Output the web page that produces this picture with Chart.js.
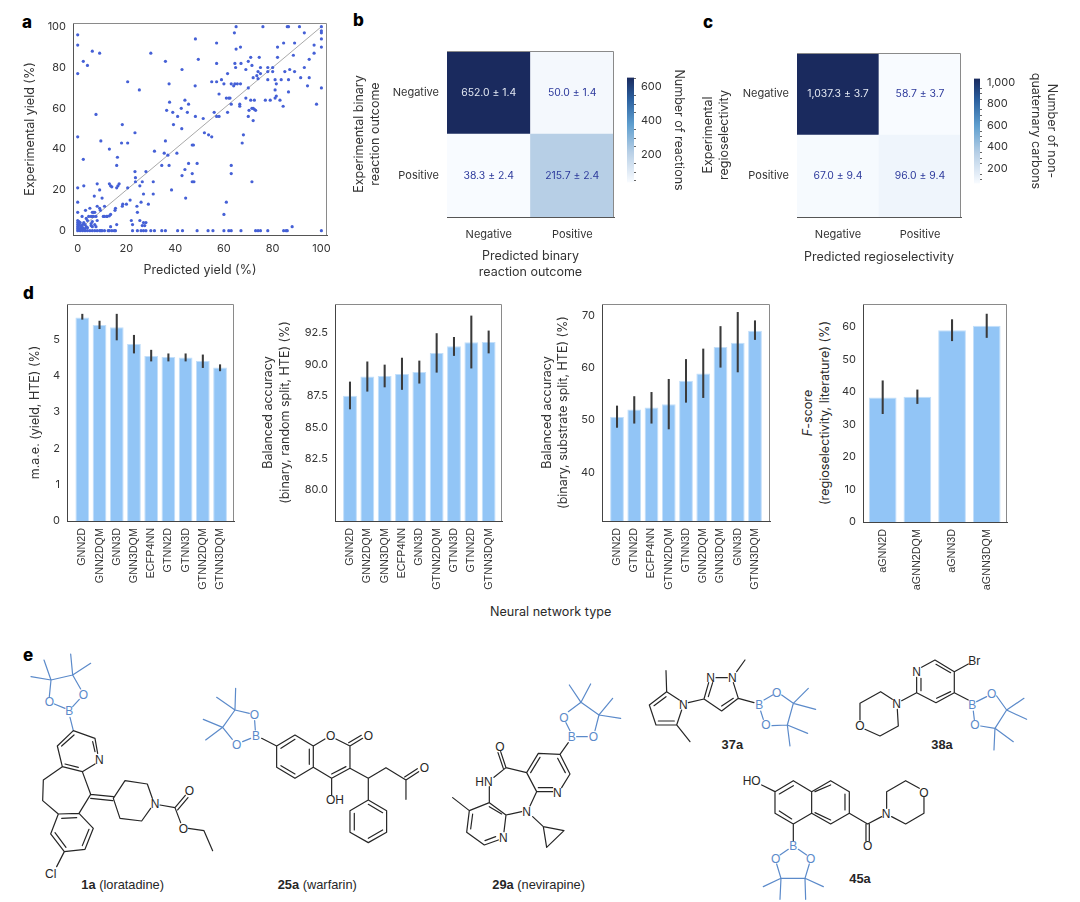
<!DOCTYPE html>
<html>
<head>
<meta charset="utf-8">
<script src="https://cdn.jsdelivr.net/npm/chart.js@4"></script>
<style>
  html, body { margin: 0; background: #fff; }
  #page { position: relative; width: 1080px; height: 902px; overflow: hidden; font-family: Inter, sans-serif; color: #2a2a2a; }
  #page canvas { position: absolute; }
  .tag { position: absolute; font: 800 17px Inter, sans-serif; color: #000; line-height: 16px; }
  .note { position: absolute; font: 12.6px/16px Inter, sans-serif; white-space: nowrap; }
  svg { position: absolute; left: 0; top: 0; }
  svg path { fill: none; stroke-width: 3.6; stroke-linecap: round; stroke-linejoin: round; }
  svg .k { stroke: #262626; }
  svg .b { stroke: #5b8aca; }
  svg text { font: 36px "Liberation Sans", sans-serif; text-anchor: middle; fill: #262626; }
  svg text.bl { fill: #5b8aca; }
  svg text.cap { font-size: 38.5px; }
  svg tspan.bd { font-weight: bold; }
</style>
</head>
<body>
<div id="page">
  <div class="tag" style="left:22px;top:14px">a</div>
  <div class="tag" style="left:353px;top:12px">b</div>
  <div class="tag" style="left:703px;top:14px">c</div>
  <div class="tag" style="left:23px;top:285px">d</div>
  <div class="tag" style="left:23px;top:647px">e</div>
  <div class="note" style="left:490px;top:604px">Neural network type</div>
  <div class="note" style="left:816px;top:413px;transform:translate(-50%,-50%) rotate(-90deg);text-align:center;line-height:16.5px"><i>F</i>-score<br>(regioselectivity, literature) (%)</div>

  <svg width="1080" height="902">
    <!-- 1a -->
    <g transform="translate(20,640) scale(.3333)">
      <path class="b" d="M135 205L103 192M158 200L178 178M88 170L93 120L158 105L182 147M93 120L72 60M93 120L33 110M158 105L152 42M158 105L212 70M150 232L160 272"/>
      <path class="k" d="M160 272L225 295L233 340M225 372L187 395L127 380L112 318L160 272M218 305L225 335M175 382L135 372M125 318L162 285M127 380L70 420L68 482L115 522M187 395L212 463L177 520M115 522L177 520L220 565L195 628L133 635L92 582L115 522M125 535L170 533M207 568L187 617M138 622L105 578M133 635L110 680M212 463L280 470M212 475L278 482M280 475L315 422L382 432L397 475M392 505L365 543L300 535L280 475M420 495L465 503M465 503L496 466M473 510L504 473M465 503L482 548M505 565L552 572L578 632"/>
      <text class="bl" x="148" y="226">B</text><text class="bl" x="88" y="198">O</text><text class="bl" x="190" y="176">O</text>
      <text x="238" y="371">N</text><text x="405" y="503">N</text><text x="508" y="466">O</text><text x="490" y="578">O</text><text x="92" y="713">Cl</text>
      <text class="cap" x="308" y="747"><tspan class="bd">1a</tspan> (loratadine)</text>
      <!-- 25a -->
      <path class="b" d="M706 270L704 242M692 295L668 305M688 220L645 210L608 262L637 298M645 210L590 172M645 210L647 145M608 262L550 238M608 262L557 300"/>
      <path class="k" d="M725 295L770 318L825 285L880 318L880 382L825 415L770 382L770 318M783 325L825 298M868 327L868 373M825 402L783 377M880 318L915 297M948 297L990 318L990 385L935 415L880 382M990 318L1028 295M986 308L1024 286M978 380L935 402M935 415L935 465M990 385L1045 415L1045 480L1100 512L1100 577L1045 608L990 577L990 512L1045 480M1003 520L1003 570M1045 595L1088 570M1045 493L1088 518M1045 415L1098 383L1158 420L1158 478M1158 420L1196 395M1154 411L1192 386"/>
      <text class="bl" x="708" y="301">B</text><text class="bl" x="703" y="238">O</text><text class="bl" x="650" y="326">O</text>
      <text x="932" y="300">O</text><text x="1045" y="300">O</text><text x="945" y="493">OH</text><text x="1213" y="396">O</text>
      <text class="cap" x="892" y="747"><tspan class="bd">25a</tspan> (warfarin)</text>
    </g>
    <!-- 29a -->
    <g transform="translate(380,640) scale(.3333)">
      <path class="b" d="M570 272L558 248M590 290L622 290M565 215L603 187L657 225L645 272M603 187L568 135M603 187L632 132M657 225L698 175M657 225L722 235"/>
      <path class="k" d="M565 308L540 343L475 340L440 398L470 455L518 455M480 352L452 398M475 443L518 443M545 443L570 402L540 343M556 398L533 355M440 398L378 383L362 335M370 385L354 338M378 383L342 412M328 440L328 488L268 512L260 577L313 615L355 600M278 522L272 567M315 602L347 590M372 575L378 525L328 488M365 522L328 500M268 512L218 473M378 525L425 515M470 455L450 498M458 530L490 560L552 572L500 622L490 560"/>
      <text class="bl" x="575" y="303">B</text><text class="bl" x="552" y="245">O</text><text class="bl" x="640" y="303">O</text>
      <text x="532" y="470">N</text><text x="360" y="333">O</text><text x="312" y="437">HN</text><text x="370" y="605">N</text><text x="440" y="528">N</text>
      <text class="cap" x="476" y="747"><tspan class="bd">29a</tspan> (nevirapine)</text>
    </g>
    <!-- 37a, 38a, 45a -->
    <g transform="translate(640,640) scale(.3333)">
      <path class="k" d="M118 180L80 155L28 195L48 255L110 255L125 210M78 170L42 197M55 243L103 243M80 155L78 92M110 255L150 305M145 188L192 177L206 128M205 170L218 128M228 113L262 113M280 128L295 175L245 213L192 177M280 175L245 198M290 95L315 60M295 175L342 188"/>
      <path class="b" d="M372 180L398 165M362 213L370 238M425 165L460 190L442 255L396 257M460 190L505 145M460 190L527 208M442 255L503 280M442 255L450 318"/>
      <text x="130" y="206">N</text><text x="212" y="125">N</text><text x="277" y="126">N</text>
      <text class="bl" x="358" y="208">B</text><text class="bl" x="410" y="170">O</text><text class="bl" x="378" y="268">O</text>
      <text class="cap" x="277" y="327"><tspan class="bd">37a</tspan></text>

      <path class="k" d="M845 82L885 60L943 95L943 158L888 188L830 158L830 112M888 73L932 98M932 155L890 175M843 152L843 115M943 95L985 72M830 158L785 182M757 178L722 155L660 190L660 240M675 268L720 288L775 258L772 208M943 158L985 180"/>
      <path class="b" d="M1010 185L1040 170M1000 213L1003 238M1070 168L1100 210L1065 265L1022 258M1100 210L1152 175M1100 210L1160 238M1065 265L1120 305M1065 265L1062 330"/>
      <text x="830" y="108">N</text><text x="770" y="203">N</text><text x="660" y="271">O</text><text x="1003" y="75">Br</text>
      <text class="bl" x="997" y="208">B</text><text class="bl" x="1055" y="175">O</text><text class="bl" x="1005" y="268">O</text>
      <text class="cap" x="906" y="327"><tspan class="bd">38a</tspan></text>

      <path class="k" d="M365 435L405 455L460 422L515 455L515 520L460 552L405 520L405 455M418 462L460 437M418 513L455 537M515 455L572 422L628 455L628 520L572 552L515 520M525 455L572 435M615 462L615 510M525 518L572 540M628 520L683 552L725 530M678 552L678 603M688 552L688 603M740 505L740 455L797 422L838 445M852 472L852 520L797 552L755 530M460 552L460 603"/>
      <path class="b" d="M445 628L420 645M475 628L500 645M410 672L423 715L495 715L508 672M423 715L370 740M423 715L420 778M495 715L550 740M495 715L497 778"/>
      <text x="335" y="436">HO</text><text x="683" y="631">O</text><text x="738" y="533">N</text><text x="852" y="470">O</text>
      <text class="bl" x="460" y="631">B</text><text class="bl" x="407" y="668">O</text><text class="bl" x="512" y="668">O</text>
      <text class="cap" x="660" y="728"><tspan class="bd">45a</tspan></text>
    </g>
  </svg>
</div>
<script>
// panel a
const predicted = [0,0,0,2.3,4,6,9,0,7.5,9.5,2.3,0,2.5,0,0,8,13,13.5,14,16,16.5,17,16,16.3,13,18,20.5,18.3,23.5,20.5,25.3,30,36,42.8,37.5,48.3,49.5,48.2,44,45.5,37.7,36.5,39,42.5,41,45,48.3,39.3,42.7,51.5,52,53.7,55,36,35.5,37,40.7,37.5,34.5,31.5,45.5,44,42.8,47,49,47,47.5,47,47.7,38.5,44.3,23.5,23.7,23.7,28,26.5,25.5,31,20.5,31,27,21.5,29,26,24.3,24.5,18.5,18.3,20,15.5,15.3,13.5,12,13,10.5,11,9.3,8,9,10,6.8,9,22,22.5,25.5,27,28,26.5,27.5,16,13.5,
  57,65,64.3,65,66.8,76,86,86.5,91,100,100,100,100,100,93,89,84.5,82,57,64.5,64.8,67,70,71,71.5,74.5,75,69,61.5,55,57,59,60,63,64,64.5,65.5,66.8,58,61,62,62.5,69,70,71,72.5,72,73.5,74,75,74,77,79,78,78,78,80,80,82,81,83.5,81.5,81,81.5,81,83,84.3,85,87,86.5,86.5,88.5,89,91.5,93,95,95,94.3,97,97,98,100,63,66.5,66.5,61.5,57,58,56,70.3,70,72,72,72.5,73,71.5,68,67.5,63,63,71.5,61,60,88,
  22.5,24.5,26,27,28,30,31.5,34.5,36,41,43,49,53.5,55.5,60,62,63,67,73,74,75,78,84.5,85.5,86,100,15.5,15,14,13,12.5,11,10,9.5,9,8,7,6,5,4,3,2,1,0,
  0,0,0,0,0,0.5,1,0.5,1,1.5,2,1,0.5,2,2.5,3,3.5,3,4,4,1.8,3.2,5,3.5,4.5,5.5,6,6.5,7,6,6.5,7.5,8,7,5.5,5.5,6,6,7.5,1.5,2.5,0.8,1.2,1.8,2.8,11,12];
const experimental = [96,91,77,83,81,88,87,46,57,44,35,21,22,14,9,23,23,22,21.5,21,22,23,32,36,40,43,43,52,48,73,69,87,83,79,72,94,84,71,64,62,63,59,58,60,56,58,56,52,50,55,48,47,46,44,38,37,38,32,32,39,33,30,27,28,33,42,42,24,24,20,16,29,26,24,29,24,22,24,21,18,18,15,13,14,12,9,13,12,13,11,10,8,7,7.3,7,12,10,12,11,16,17,20,5,3,5,4,4,2.5,2.5,3,2,
  92,100,97,89,90,100,100,100,100,100,98,97,94,90,97,92,92,90,82,82,80,82,83,85,81,85,80,79,77,73,73,74,72,72,71,72,72,72,67,65,65,65,65,70,64,64,75,76,78,77,74.5,64,64,74,78,80,78,80,85,74,74,72,69,66,65,64,61,78,79,74,68,86,78,75,80,84,75,71,91,87,62,70,62,62,61,58,56,56,58,59,56,54,60,59.5,59,60,47,43,32,28,24,14,8,2,
  0,0,0,0,0,0,0,0,0,0,0,0,0,0,0,0,0,0,0,0,0,0,0,0,0,0,0,0,0,0,0,0,0,0,0,0,0,0,0,0,0,0,0,0,
  5,4,3,2,1,4.5,4,3,2.5,2,1.5,1,1,3,4,3,2,1,1.5,5,7,10,11,6,7,7,9,9,9,7,7,7,5,3,3.5,2.5,4.5,2,2,0.5,0.5,0.5,0.5,0.5,0.5,7,7];
const parityX = [0, 100];
const parityY = [0, 100];
const yieldTicks = [0, 20, 40, 60, 80, 100];

// panels b, c
const outcomeLabels = ['Negative', 'Positive'];
const bNegativeRow = [652.0, 50.0];
const bPositiveRow = [38.3, 215.7];
const bNegativeErr = [1.4, 1.4];
const bPositiveErr = [2.4, 2.4];
const bBarTicks = [200, 400, 600];
const bBarMinor = [50, 100, 150, 250, 300, 350, 450, 500, 550, 650];
const cNegativeRow = [1037.3, 58.7];
const cPositiveRow = [67.0, 96.0];
const cNegativeErr = [3.7, 3.7];
const cPositiveErr = [9.4, 9.4];
const cBarTicks = [200, 400, 600, 800, 1000];
const cBarMinor = [100, 150, 250, 300, 350, 450, 500, 550, 650, 700, 750, 850, 900, 950];

// panel d
const maeNames = ['GNN2D','GNN2DQM','GNN3D','GNN3DQM','ECFP4NN','GTNN2D','GTNN3D','GTNN2DQM','GTNN3DQM'];
const maeValues = [5.6,5.39,5.33,4.87,4.54,4.51,4.5,4.4,4.22];
const maeLow = [5.55,5.29,4.98,4.62,4.4,4.4,4.4,4.22,4.13];
const maeHigh = [5.69,5.5,5.69,5.11,4.7,4.6,4.6,4.57,4.3];
const maeTicks = [0,1,2,3,4,5];

const randomNames = ['GNN2D','GNN2DQM','GNN3DQM','ECFP4NN','GNN3D','GTNN2DQM','GTNN3D','GTNN2D','GTNN3DQM'];
const randomValues = [87.5,89.03,89.08,89.24,89.4,90.9,91.44,91.76,91.78];
const randomLow = [86.45,87.86,88.2,88.0,88.5,89.37,90.7,89.7,90.9];
const randomHigh = [88.6,90.2,89.95,90.5,90.27,92.45,92.15,93.85,92.66];
const randomTicks = [80,82.5,85,87.5,90,92.5];

const substrateNames = ['GNN2D','GTNN2D','ECFP4NN','GTNN2DQM','GTNN3D','GNN2DQM','GNN3DQM','GNN3D','GTNN3DQM'];
const substrateValues = [50.6,52,52.4,53.05,57.5,58.9,64,64.8,67.1];
const substrateLow = [48.6,49.4,49.4,48.3,53.4,54.3,60.1,59.2,65.4];
const substrateHigh = [52.7,54.5,55.3,57.8,61.6,63.6,67.9,70.6,69];
const substrateTicks = [40,50,60,70];

const fscoreNames = ['aGNN2D','aGNN2DQM','aGNN3D','aGNN3DQM'];
const fscoreValues = [38.3,38.5,58.9,60.3];
const fscoreLow = [33.3,36.4,55.7,56.7];
const fscoreHigh = [43.4,40.6,62.2,63.9];
const fscoreTicks = [0,10,20,30,40,50,60];

const INK = '#333';
const tickFont = { family: 'Inter', size: 11 };
const titleFont = { family: 'Inter', size: 12.5, lineHeight: 1.25 };

// colour ramp shared by the heatmaps and their colour bars
const rampStops = [[0, '#f8fbff'], [0.29, '#b7cfe6'], [0.55, '#5f9fcf'], [0.8, '#2a5f9e'], [1, '#1a2a5e']];
function rampColor(t) {
  for (let i = 1; i < rampStops.length; i++) {
    if (t <= rampStops[i][0]) {
      const [t0, c0] = rampStops[i - 1], [t1, c1] = rampStops[i];
      const f = (t - t0) / (t1 - t0);
      const ch = (c, k) => parseInt(c.substr(1 + k * 2, 2), 16);
      const mix = k => Math.round(ch(c0, k) + (ch(c1, k) - ch(c0, k)) * f);
      return 'rgb(' + mix(0) + ',' + mix(1) + ',' + mix(2) + ')';
    }
  }
  return rampStops[rampStops.length - 1][1];
}

const framePlugin = {
  id: 'frame',
  afterDraw(chart) {
    const { ctx, chartArea: a } = chart;
    ctx.save();
    ctx.strokeStyle = '#8a8a8a';
    ctx.lineWidth = 1;
    ctx.beginPath();
    ctx.moveTo(a.left, a.top + 0.5);
    ctx.lineTo(a.right - 0.5, a.top + 0.5);
    ctx.lineTo(a.right - 0.5, a.bottom);
    ctx.stroke();
    ctx.restore();
  }
};

// puts a chart on the page so that its plot area lands on the given box
function place(box, margin, config) {
  const canvas = document.createElement('canvas');
  const w = box.r - box.l + margin.l + margin.r;
  const h = box.b - box.t + margin.t + margin.b;
  canvas.width = w;
  canvas.height = h;
  canvas.style.left = (box.l - margin.l) + 'px';
  canvas.style.top = (box.t - margin.t) + 'px';
  canvas.style.width = w + 'px';
  canvas.style.height = h + 'px';
  document.getElementById('page').appendChild(canvas);
  config.options.responsive = false;
  config.options.animation = false;
  // a right-hand axis already takes up the right margin, so no padding then
  config.options.layout = { padding: { top: margin.t, right: margin.axisRight ? 0 : margin.r, left: 0, bottom: 0 } };
  config.options.plugins = { legend: { display: false }, tooltip: { enabled: false } };
  return new Chart(canvas, config);
}

function fixedTicks(list) {
  return scale => { scale.ticks = list.map(v => ({ value: v })); };
}

// panel a: parity plot
place({ l: 73, r: 327, t: 23, b: 235 }, { l: 51, r: 14, t: 10, b: 43 }, {
  type: 'scatter',
  data: {
    datasets: [
      { data: predicted.map((x, i) => ({ x, y: experimental[i] })), pointRadius: 1.6, pointBackgroundColor: '#4560d6', pointBorderWidth: 0, order: 1 },
      { data: parityX.map((x, i) => ({ x, y: parityY[i] })), showLine: true, pointRadius: 0, borderColor: '#a9a9a9', borderWidth: 1, order: 2 }
    ]
  },
  options: {
    scales: {
      x: {
        min: -1.93, max: 102.3, afterBuildTicks: fixedTicks(yieldTicks), afterFit: s => { s.height = 43; },
        grid: { display: false, drawTicks: true, tickLength: 4, tickColor: INK }, border: { color: '#555' },
        ticks: { font: tickFont, color: INK, padding: 3, maxRotation: 0 },
        title: { display: true, text: 'Predicted yield (%)', font: titleFont, color: INK, padding: 0 }
      },
      y: {
        min: -2.1, max: 101.8, afterBuildTicks: fixedTicks(yieldTicks), afterFit: s => { s.width = 51; },
        grid: { display: false, tickLength: 4, tickColor: INK }, border: { color: '#555' },
        ticks: { font: tickFont, color: INK, padding: 3 },
        title: { display: true, text: 'Experimental yield (%)', font: titleFont, color: INK, padding: 0 }
      }
    }
  },
  plugins: [framePlugin]
});

// heatmap as two stacked one-unit rows, coloured by the count in each cell
function heatmap(box, margin, topRow, bottomRow, topErr, bottomErr, yTitle, xTitle) {
  const all = topRow.concat(bottomRow);
  const lo = Math.min(...all), hi = Math.max(...all);
  const shade = row => row.map(v => rampColor((v - lo) / (hi - lo)));
  const cellText = {
    id: 'cellText',
    afterDatasetsDraw(chart) {
      const { ctx, scales: { x, y } } = chart;
      const rows = [[bottomRow, bottomErr, 0.5], [topRow, topErr, 1.5]];
      ctx.save();
      ctx.font = '10.4px Inter';
      ctx.textAlign = 'center';
      ctx.textBaseline = 'middle';
      rows.forEach(([vals, errs, pos]) => vals.forEach((v, i) => {
        ctx.fillStyle = v === hi ? '#e4e9f3' : '#2d3a9c';
        const txt = v.toLocaleString('en-US', { minimumFractionDigits: 1 }) + ' ± ' + errs[i].toFixed(1);
        ctx.fillText(txt, x.getPixelForValue(i), y.getPixelForValue(pos));
      }));
      ctx.restore();
    }
  };
  place(box, margin, {
    type: 'bar',
    data: {
      labels: outcomeLabels,
      datasets: [
        { data: bottomRow.map(() => 1), backgroundColor: shade(bottomRow), stack: 'm' },
        { data: topRow.map(() => 1), backgroundColor: shade(topRow), stack: 'm' }
      ]
    },
    options: {
      barPercentage: 1,
      categoryPercentage: 1,
      scales: {
        x: {
          stacked: true, afterFit: s => { s.height = margin.b; },
          grid: { display: false, tickLength: 4, tickColor: INK, offset: false }, border: { color: '#555' },
          ticks: { font: { family: 'Inter', size: 11 }, color: INK, padding: 7, maxRotation: 0 },
          title: { display: true, text: xTitle, font: titleFont, color: INK, padding: 0 }
        },
        y: {
          stacked: true, min: 0, max: 2, afterBuildTicks: fixedTicks([0.5, 1.5]), afterFit: s => { s.width = margin.l; },
          grid: { display: false, tickLength: 5, tickColor: INK }, border: { color: '#555' },
          ticks: { font: { family: 'Inter', size: 11 }, color: INK, padding: 3, callback: v => outcomeLabels[v === 1.5 ? 0 : 1] },
          title: { display: true, text: yTitle, font: { family: 'Inter', size: 12.5, lineHeight: 1.31 }, color: INK, padding: 0 }
        }
      }
    },
    plugins: [framePlugin, cellText]
  });
}

function colorBar(box, margin, lo, hi, majors, minors, title) {
  const minorTicks = {
    id: 'minorTicks',
    afterDraw(chart) {
      const { ctx, scales: { y }, chartArea: a } = chart;
      ctx.save();
      ctx.strokeStyle = '#666';
      ctx.lineWidth = 1;
      minors.forEach(v => {
        if (v < lo || v > hi) return;
        const p = Math.round(y.getPixelForValue(v)) + 0.5;
        ctx.beginPath();
        ctx.moveTo(a.right, p);
        ctx.lineTo(a.right + 2, p);
        ctx.stroke();
      });
      ctx.restore();
    }
  };
  place(box, { ...margin, axisRight: true }, {
    type: 'bar',
    data: {
      labels: [''],
      datasets: [{
        data: [[lo, hi]],
        backgroundColor(context) {
          const area = context.chart.chartArea;
          if (!area) return '#888';
          const g = context.chart.ctx.createLinearGradient(0, area.bottom, 0, area.top);
          rampStops.forEach(([t, c]) => g.addColorStop(t, c));
          return g;
        }
      }]
    },
    options: {
      barPercentage: 1,
      categoryPercentage: 1,
      scales: {
        x: { display: false },
        y: {
          position: 'right', min: lo, max: hi, afterBuildTicks: fixedTicks(majors), afterFit: s => { s.width = margin.r; },
          grid: { display: false, tickLength: 4, tickColor: INK }, border: { display: false },
          ticks: { font: tickFont, color: INK, padding: 3 },
          title: { display: true, text: title, font: { family: 'Inter', size: 12.5, lineHeight: 1.31 }, color: INK, padding: 0 }
        }
      }
    },
    plugins: [minorTicks]
  });
}

heatmap({ l: 447, r: 614, t: 51, b: 217 }, { l: 96, r: 12, t: 10, b: 63 },
  bNegativeRow, bPositiveRow, bNegativeErr, bPositiveErr,
  ['Experimental binary', 'reaction outcome'], ['Predicted binary', 'reaction outcome']);
colorBar({ l: 627, r: 634, t: 76, b: 192 }, { l: 0, r: 53, t: 8, b: 0 }, 38.3, 652, bBarTicks, bBarMinor, 'Number of reactions');

heatmap({ l: 797, r: 961, t: 53, b: 217 }, { l: 97, r: 12, t: 10, b: 48 },
  cNegativeRow, cPositiveRow, cNegativeErr, cPositiveErr,
  ['Experimental', 'regioselectivity'], ['Predicted regioselectivity']);
colorBar({ l: 974, r: 980, t: 77, b: 193 }, { l: 0, r: 80, t: 8, b: 0 }, 58.7, 1037.3, cBarTicks, cBarMinor, ['Number of non-', 'quaternary carbons']);

// panel d: bars with a thin floating bar as the error whisker
function barPanel(box, margin, xRange, yRange, names, values, low, high, yTicks, fmt, yTitle, lineHeight) {
  const idx = names.map((_, i) => i);
  place(box, margin, {
    type: 'bar',
    data: {
      datasets: [
        { data: idx.map(i => ({ x: i, y: values[i] })), backgroundColor: '#92c5f6', borderColor: '#c3dffa', borderWidth: 1, barPercentage: 0.8, categoryPercentage: 1, grouped: false, order: 2 },
        { data: idx.map(i => ({ x: i, y: [low[i], high[i]] })), backgroundColor: '#3a3a3a', barThickness: 1.4, borderWidth: 0, grouped: false, order: 1 }
      ]
    },
    options: {
      scales: {
        x: {
          type: 'linear', offset: false, min: xRange[0], max: xRange[1],
          afterBuildTicks: fixedTicks(idx), afterFit: s => { s.height = margin.b; },
          grid: { display: false, offset: false, tickLength: 4, tickColor: INK }, border: { color: '#444' },
          ticks: { font: { family: 'Liberation Sans', size: 10.8 }, color: INK, padding: 3, autoSkip: false, minRotation: 90, maxRotation: 90, callback: v => names[v] }
        },
        y: {
          min: yRange[0], max: yRange[1], afterBuildTicks: fixedTicks(yTicks), afterFit: s => { s.width = margin.l; },
          grid: { display: false, tickLength: 4, tickColor: INK }, border: { color: '#444' },
          ticks: { font: tickFont, color: INK, padding: 3, callback: fmt },
          title: yTitle ? { display: true, text: yTitle, font: { family: 'Inter', size: 12.5, lineHeight }, color: INK, padding: 0 } : { display: false }
        }
      }
    },
    plugins: [framePlugin]
  });
}

barPanel({ l: 67, r: 234, t: 304, b: 521 }, { l: 40, r: 10, t: 10, b: 75 }, [-0.889, 8.81], [0, 5.97],
  maeNames, maeValues, maeLow, maeHigh, maeTicks, v => v, 'm.a.e. (yield, HTE) (%)', 1.25);
barPanel({ l: 335, r: 502, t: 304, b: 521 }, { l: 75, r: 10, t: 10, b: 75 }, [-0.865, 8.77], [77.54, 94.8],
  randomNames, randomValues, randomLow, randomHigh, randomTicks, v => v.toFixed(1), ['Balanced accuracy', '(binary, random split, HTE) (%)'], 1.36);
barPanel({ l: 602, r: 770, t: 304, b: 521 }, { l: 63, r: 10, t: 10, b: 75 }, [-0.87, 8.87], [30.7, 72.2],
  substrateNames, substrateValues, substrateLow, substrateHigh, substrateTicks, v => v, ['Balanced accuracy', '(binary, substrate split, HTE) (%)'], 1.31);
barPanel({ l: 863, r: 1007, t: 304, b: 522 }, { l: 30, r: 10, t: 10, b: 75 }, [-0.568, 3.585], [0, 67],
  fscoreNames, fscoreValues, fscoreLow, fscoreHigh, fscoreTicks, v => v, null, 1.25);
</script>
</body>
</html>
